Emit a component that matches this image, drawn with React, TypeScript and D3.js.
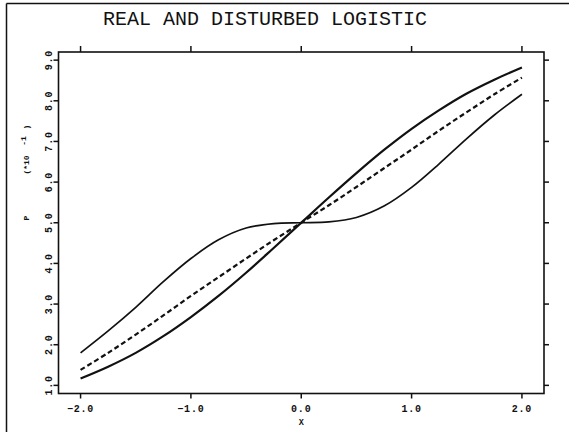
import React from "react";
import * as d3 from "d3";

const xValues = [-2, -1.75, -1.5, -1.25, -1, -0.75, -0.5, -0.25, 0, 0.25, 0.5, 0.75, 1, 1.25, 1.5, 1.75, 2];
// values in units of 10^-1
const realLogistic = [1.17, 1.46, 1.8, 2.21, 2.68, 3.2, 3.77, 4.38, 5.0, 5.62, 6.22, 6.79, 7.31, 7.77, 8.18, 8.52, 8.82];
const fittedLogistic = [1.38, 1.8, 2.25, 2.72, 3.2, 3.66, 4.12, 4.57, 5.0, 5.43, 5.88, 6.34, 6.8, 7.27, 7.72, 8.16, 8.57];
const disturbedLogistic = [1.8, 2.34, 2.92, 3.55, 4.12, 4.58, 4.87, 4.98, 5.0, 5.02, 5.13, 5.41, 5.87, 6.45, 7.07, 7.65, 8.16];

const xTicks = [-2, -1, 0, 1, 2];
const yTicks = [1, 2, 3, 4, 5, 6, 7, 8, 9];
const title = "REAL AND DISTURBED LOGISTIC";
const xLabel = "X";

const W = 569;
const H = 432;
const L = 58.5, R = 544, T = 52, B = 393.5;

export default function App() {
  const x = d3.scaleLinear().domain([-2.2, 2.2]).range([L, R]);
  const y = d3.scaleLinear().domain([0.8, 9.2]).range([B, T]);
  const line = d3
    .line<number>()
    .x((_, i) => x(xValues[i]))
    .y((d) => y(d))
    .curve(d3.curveCatmullRom.alpha(0.5));
  const fmt = d3.format(".1f");
  const mono = "'Liberation Mono', 'DejaVu Sans Mono', monospace";
  const tick = 5;

  return (
    <svg
      width={W}
      height={H}
      style={{ position: "absolute", left: 0, top: 0, background: "#fff" }}
    >
      <rect x={0} y={0} width={W} height={H} fill="#fff" />
      {/* outer frame */}
      <line x1={6.5} y1={3.5} x2={W} y2={3.5} stroke="#111" strokeWidth={1.5} />
      <line x1={6.5} y1={3.5} x2={6.5} y2={H} stroke="#111" strokeWidth={1.5} />

      <text x={265} y={25} fontFamily={mono} fontSize={20} textAnchor="middle" fill="#111">
        {title}
      </text>

      {/* plot frame */}
      <rect x={L} y={T} width={R - L} height={B - T} fill="none" stroke="#111" strokeWidth={1.6} />

      {/* x ticks bottom and top */}
      {xTicks.map((t) => (
        <g key={"x" + t}>
          <line x1={x(t)} x2={x(t)} y1={B} y2={B + tick} stroke="#111" strokeWidth={1.5} />
          <line x1={x(t)} x2={x(t)} y1={T} y2={T - tick - 1} stroke="#111" strokeWidth={1.5} />
          <text
            x={x(t)}
            y={412}
            fontFamily={mono}
            fontSize={10}
            fontWeight="bold"
            letterSpacing={0.8}
            textAnchor="middle"
            fill="#111"
          >
            {fmt(t)}
          </text>
        </g>
      ))}
      <text x={x(0)} y={424.5} fontFamily={mono} fontSize={8.5} fontWeight="bold" textAnchor="middle" fill="#111">
        {xLabel}
      </text>

      {/* y ticks left and right */}
      {yTicks.map((t) => (
        <g key={"y" + t}>
          <line x1={L} x2={L - tick} y1={y(t)} y2={y(t)} stroke="#111" strokeWidth={1.5} />
          <line x1={R} x2={R + tick} y1={y(t)} y2={y(t)} stroke="#111" strokeWidth={1.5} />
          <text
            transform={`translate(51.5,${y(t)}) rotate(-90)`}
            fontFamily={mono}
            fontSize={10}
            fontWeight="bold"
            letterSpacing={0.8}
            textAnchor="middle"
            fill="#111"
          >
            {fmt(t)}
          </text>
        </g>
      ))}

      {/* y axis label */}
      <g fontFamily={mono} fontSize={8} fontWeight="bold" fill="#111">
        <text transform="translate(29,218) rotate(-90)" textAnchor="middle">P</text>
        <text transform="translate(29,165) rotate(-90)" textAnchor="middle">(*10</text>
        <text transform="translate(26,141) rotate(-90)" textAnchor="middle">-1</text>
        <text transform="translate(29,127) rotate(-90)" textAnchor="middle">)</text>
      </g>

      {/* curves */}
      <path d={line(disturbedLogistic) || ""} fill="none" stroke="#111" strokeWidth={1.7} />
      <path d={line(fittedLogistic) || ""} fill="none" stroke="#111" strokeWidth={2.2} strokeDasharray="5,3" />
      <path d={line(realLogistic) || ""} fill="none" stroke="#111" strokeWidth={2.2} />
    </svg>
  );
}
